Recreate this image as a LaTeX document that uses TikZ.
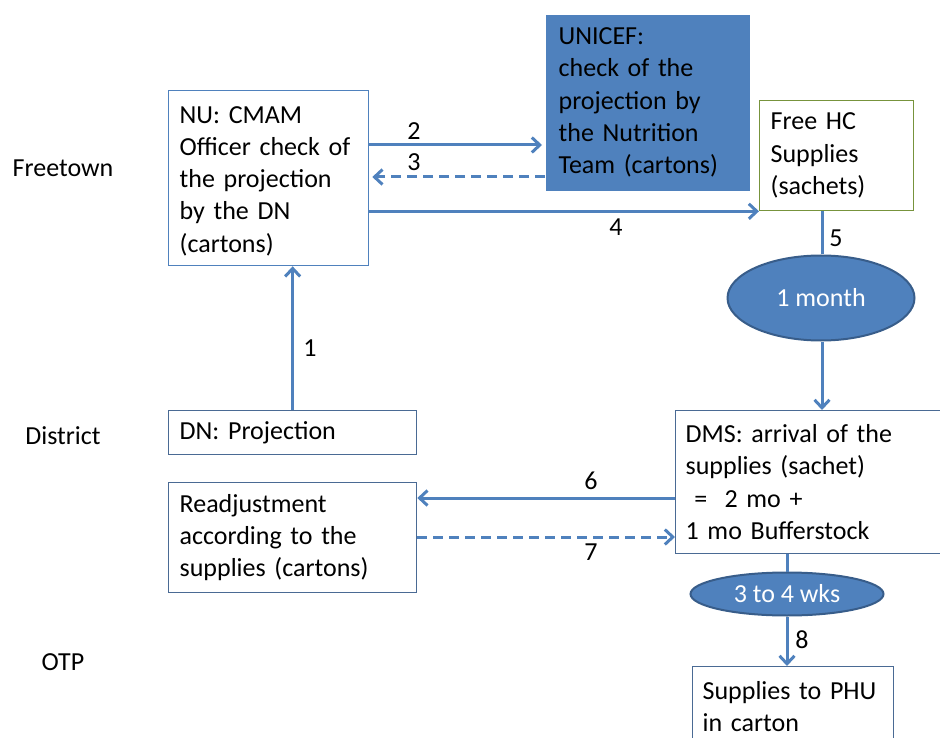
\documentclass[tikz,border=0pt]{standalone}
\usepackage{fontspec}
\setmainfont{Carlito}
\usetikzlibrary{arrows.meta,shapes.geometric}
\definecolor{mainblue}{HTML}{4F81BD}
\definecolor{darkblue}{HTML}{385D8A}
\definecolor{boxline}{HTML}{4A6A94}
\definecolor{olive}{HTML}{77933C}
\tikzset{
  txt/.style={font=\fontsize{26}{32.3}\selectfont},
  box/.style={txt,draw=boxline,line width=1.3pt,fill=white,anchor=north west,align=left,inner xsep=11pt,inner ysep=0pt},
  bx/.style 2 args={text width=#1pt-22pt,minimum width=#1pt,minimum height=#2pt},
  oval/.style={txt,ellipse,draw=darkblue,line width=2pt,fill=mainblue,text=white,inner sep=0pt},
  conn/.style={draw=mainblue,line width=3pt},
  arr/.style={conn,-{Straight Barb[length=8pt,width=15pt]}},
  dsh/.style={dash pattern=on 10pt off 6pt},
  lbl/.style={txt,inner sep=0pt}
}
\begin{document}
\begin{tikzpicture}[x=1pt,y=-1pt]
\useasboundingbox (0,0) rectangle (940,738);
\clip (0,0) rectangle (940,738);
% row labels
\node[lbl] (freetown) at (63,168) {Freetown};
\node[lbl] (district) at (63,436) {District};
\node[lbl] (otp) at (63,662) {OTP};
% boxes
\node[box,draw=mainblue,bx={200}{175}] (nu) at (168,90) {\strut NU: CMAM\\Officer check of\\the projection\\by the DN\\(cartons)};
\node[box,draw=none,fill=mainblue,inner xsep=13pt,text width=178pt,minimum width=204pt,minimum height=176pt] (unicef) at (545,14) {UNICEF:\\check of the\\projection by\\the Nutrition\\Team (cartons)};
\node[box,draw=olive,bx={154}{110}] (free) at (759,100) {Free HC\\Supplies\\(sachets)};
\node[oval,minimum width=187pt,minimum height=85pt] (month) at (821,298) {1 month};
\node[box,inner xsep=10pt,text width=245pt,minimum width=265pt,minimum height=143pt] (dms) at (675,410) {DMS: arrival of the\\supplies (sachet)\\\ =\ \ 2 mo +\\1 mo Bufferstock};
\node[oval,minimum width=193pt,minimum height=43pt] (wks) at (787,594) {3 to 4 wks};
\node[box,inner xsep=10pt,text width=181pt,minimum width=201pt,minimum height=80pt] (phu) at (692,666) {Supplies to PHU\\in carton};
\node[box,bx={248}{44}] (dn) at (168,410) {DN: Projection};
\node[box,bx={248}{110}] (readj) at (168,482) {Readjustment\\according to the\\supplies (cartons)};
% helper heights
\coordinate (y2) at (0,145);
\coordinate (y3) at (0,177);
\coordinate (y6) at (0,498);
\coordinate (y7) at (0,537);
\coordinate (xa) at (822,0);
% connectors
\draw[arr] (dn.north) -- (dn.north |- nu.south);
\draw[arr,shorten >=3pt] (nu.east |- y2) -- (unicef.west |- y2);
\draw[arr,dsh,shorten >=3pt] (unicef.west |- y3) -- (nu.east |- y3);
\draw[arr] (nu.east |- free.south west) -- (free.south west);
\draw[conn] (xa |- free.south) -- (xa |- month.north);
\draw[arr] (xa |- month.south) -- (xa |- dms.north);
\draw[arr] (dms.west |- y6) -- (readj.east |- y6);
\draw[arr,dsh] (readj.east |- y7) -- (dms.west |- y7);
\draw[conn] (wks.north |- dms.south) -- (wks.north);
\draw[arr] (wks.south) -- (phu.north -| wks.south);
% labels
\node[lbl] (l1) at (310,348) {1};
\node[lbl] (l2) at (414,131) {2};
\node[lbl] (l3) at (414,162) {3};
\node[lbl] (l4) at (616,227) {4};
\node[lbl] (l5) at (836,238) {5};
\node[lbl] (l6) at (591,481) {6};
\node[lbl] (l7) at (591,552) {7};
\node[lbl] (l8) at (802,640) {8};
\end{tikzpicture}
\end{document}
